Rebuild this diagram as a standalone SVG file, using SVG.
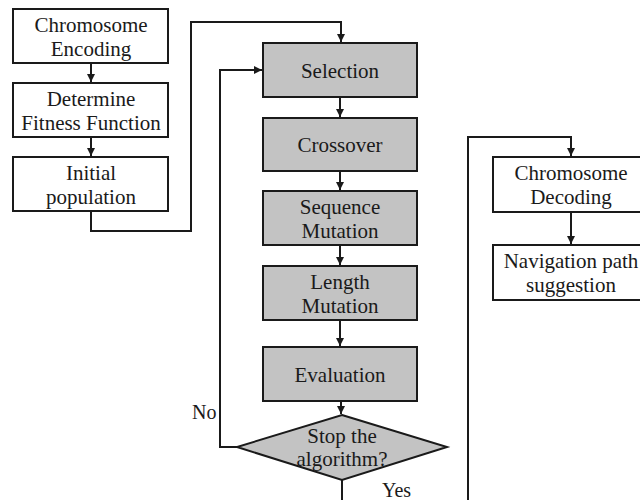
<svg xmlns="http://www.w3.org/2000/svg" width="640" height="500" viewBox="0 0 640 500">
<defs>
<style>
.box{fill:#ffffff;stroke:#1a1a1a;stroke-width:2}
.gbox{fill:#c3c3c3;stroke:#1a1a1a;stroke-width:2}
.label{font-family:"Liberation Serif","Times New Roman",serif;font-size:21px;fill:#1a1a1a;text-anchor:middle}
.lbl{font-family:"Liberation Serif","Times New Roman",serif;font-size:20px;fill:#1a1a1a}
.c{fill:none;stroke:#1a1a1a;stroke-width:2}
</style>
<marker id="ah" markerUnits="userSpaceOnUse" markerWidth="9" markerHeight="8" refX="8" refY="4" orient="auto">
<path d="M0,0 L8,4 L0,8 z" fill="#1a1a1a"/>
</marker>
</defs>
<rect width="640" height="500" fill="#ffffff"/>
<g id="connectors">
<path class="c" d="M91,63 V82" marker-end="url(#ah)"/>
<path class="c" d="M91,137 V156" marker-end="url(#ah)"/>
<path class="c" d="M91,211 V231 H191 V22 H341 V42" marker-end="url(#ah)"/>
<path class="c" d="M340,97 V117" marker-end="url(#ah)"/>
<path class="c" d="M340,171 V190" marker-end="url(#ah)"/>
<path class="c" d="M340,245 V265" marker-end="url(#ah)"/>
<path class="c" d="M340,320 V346" marker-end="url(#ah)"/>
<path class="c" d="M341,401 V414" marker-end="url(#ah)"/>
<path class="c" d="M237,447 H220 V70 H262" marker-end="url(#ah)"/>
<path class="c" d="M342,480 V510"/>
<path class="c" d="M468,510 V137 H571 V156" marker-end="url(#ah)"/>
<path class="c" d="M571,212 V244" marker-end="url(#ah)"/>
<text class="lbl" x="192" y="419">No</text>
<text class="lbl" x="382" y="497">Yes</text>
</g>
<g id="chromosome-encoding">
<rect class="box" x="13" y="9" width="155" height="54"/>
<text class="label" x="91" y="32">Chromosome</text>
<text class="label" x="91" y="56">Encoding</text>
</g>
<g id="fitness-function">
<rect class="box" x="13" y="83" width="155" height="54"/>
<text class="label" x="91" y="106">Determine</text>
<text class="label" x="91" y="130">Fitness Function</text>
</g>
<g id="initial-population">
<rect class="box" x="13" y="157" width="155" height="54"/>
<text class="label" x="91" y="180">Initial</text>
<text class="label" x="91" y="204">population</text>
</g>
<g id="selection">
<rect class="gbox" x="263" y="43" width="154" height="54"/>
<text class="label" x="340" y="78">Selection</text>
</g>
<g id="crossover">
<rect class="gbox" x="263" y="118" width="154" height="53"/>
<text class="label" x="340" y="152">Crossover</text>
</g>
<g id="sequence-mutation">
<rect class="gbox" x="263" y="191" width="154" height="54"/>
<text class="label" x="340" y="214">Sequence</text>
<text class="label" x="340" y="238">Mutation</text>
</g>
<g id="length-mutation">
<rect class="gbox" x="263" y="266" width="154" height="54"/>
<text class="label" x="340" y="289">Length</text>
<text class="label" x="340" y="313">Mutation</text>
</g>
<g id="evaluation">
<rect class="gbox" x="263" y="347" width="154" height="54"/>
<text class="label" x="340" y="382">Evaluation</text>
</g>
<g id="stop-decision">
<polygon class="gbox" points="342,415 447,447 342,480 237,447"/>
<text class="label" x="342" y="443">Stop the</text>
<text class="label" x="342" y="466">algorithm?</text>
</g>
<g id="chromosome-decoding">
<rect class="box" x="493" y="157" width="156" height="55"/>
<text class="label" x="571" y="180">Chromosome</text>
<text class="label" x="571" y="204">Decoding</text>
</g>
<g id="navigation-path">
<rect class="box" x="493" y="245" width="156" height="55"/>
<text class="label" x="571" y="268">Navigation path</text>
<text class="label" x="571" y="292">suggestion</text>
</g>
</svg>
